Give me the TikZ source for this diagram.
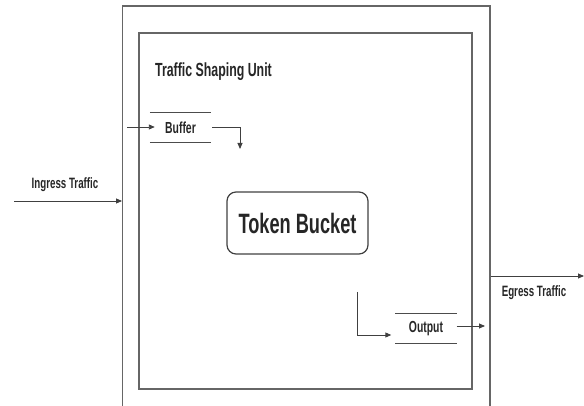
\documentclass[tikz,border=0pt]{standalone}
\usepackage{fontspec}
\setmainfont{Liberation Sans}[FakeStretch=0.65]
\usetikzlibrary{arrows.meta}
\tikzset{
  frame/.style={draw=black!60, line width=1.3pt, inner sep=0pt},
  lbl/.style={font=\bfseries, text=black!85, inner sep=0pt},
  conn/.style={draw=black!75, line width=0.9pt, -{Triangle[length=6pt,width=5pt]}},
  bar/.style={draw=black!70, line width=1.1pt},
  slot/.style={minimum width=61pt, minimum height=29pt, inner sep=0pt, font=\bfseries\fontsize{16}{18}\selectfont, text=black!85}
}
\begin{document}
\begin{tikzpicture}[x=1pt,y=-1pt]
\useasboundingbox (0,0) rectangle (584,406);
% frames
\node[frame, minimum width=367.3pt, minimum height=404pt] (outer) at (306.35,208) {};
\node[frame, minimum width=333pt, minimum height=356pt] (inner) at (305.5,211) {};
% title
\node[lbl, font=\bfseries\fontsize{19}{21}\selectfont] (title) at (213.5,72) {Traffic Shaping Unit};
% ingress
\coordinate (inS) at (14,201);
\node[lbl, font=\bfseries\fontsize{15}{17}\selectfont] (inL) at (65,185) {Ingress Traffic};
\draw[conn] (inS) -- (inS -| outer.west);
% buffer
\node[slot] (buf) at (180.5,127.5) {Buffer};
\draw[bar] (buf.north west) -- (buf.north east);
\draw[bar] (buf.south west) -- (buf.south east);
\coordinate (bIn) at (127,127);
\draw[conn] (bIn) -- ([xshift=5pt]bIn -| buf.west);
\coordinate (bOut) at (240,149);
\draw[conn] ([xshift=1pt]buf.east |- bIn) -| (bOut);
% token bucket
\node[draw=black!75, line width=1.2pt, rounded corners=9pt, minimum width=141pt, minimum height=62pt,
      font=\bfseries\fontsize{28}{30}\selectfont, text=black!85] (tb) at (297.5,223) {Token Bucket};
% output
\node[slot] (out) at (426,328.5) {Output};
\draw[bar] (out.north west) -- (out.north east);
\draw[bar] (out.south west) -- (out.south east);
\coordinate (oIn) at (357,292);
\draw[conn] (oIn) |- ([xshift=-4pt]out.west |- 0,335);
\coordinate (oEnd) at (485,326);
\draw[conn] (out.east |- oEnd) -- (oEnd);
% egress
\coordinate (eg) at (584,276);
\draw[conn] (eg -| outer.east) -- (eg);
\node[lbl, font=\bfseries\fontsize{15}{17}\selectfont] (egL) at (534,293) {Egress Traffic};
\end{tikzpicture}
\end{document}
